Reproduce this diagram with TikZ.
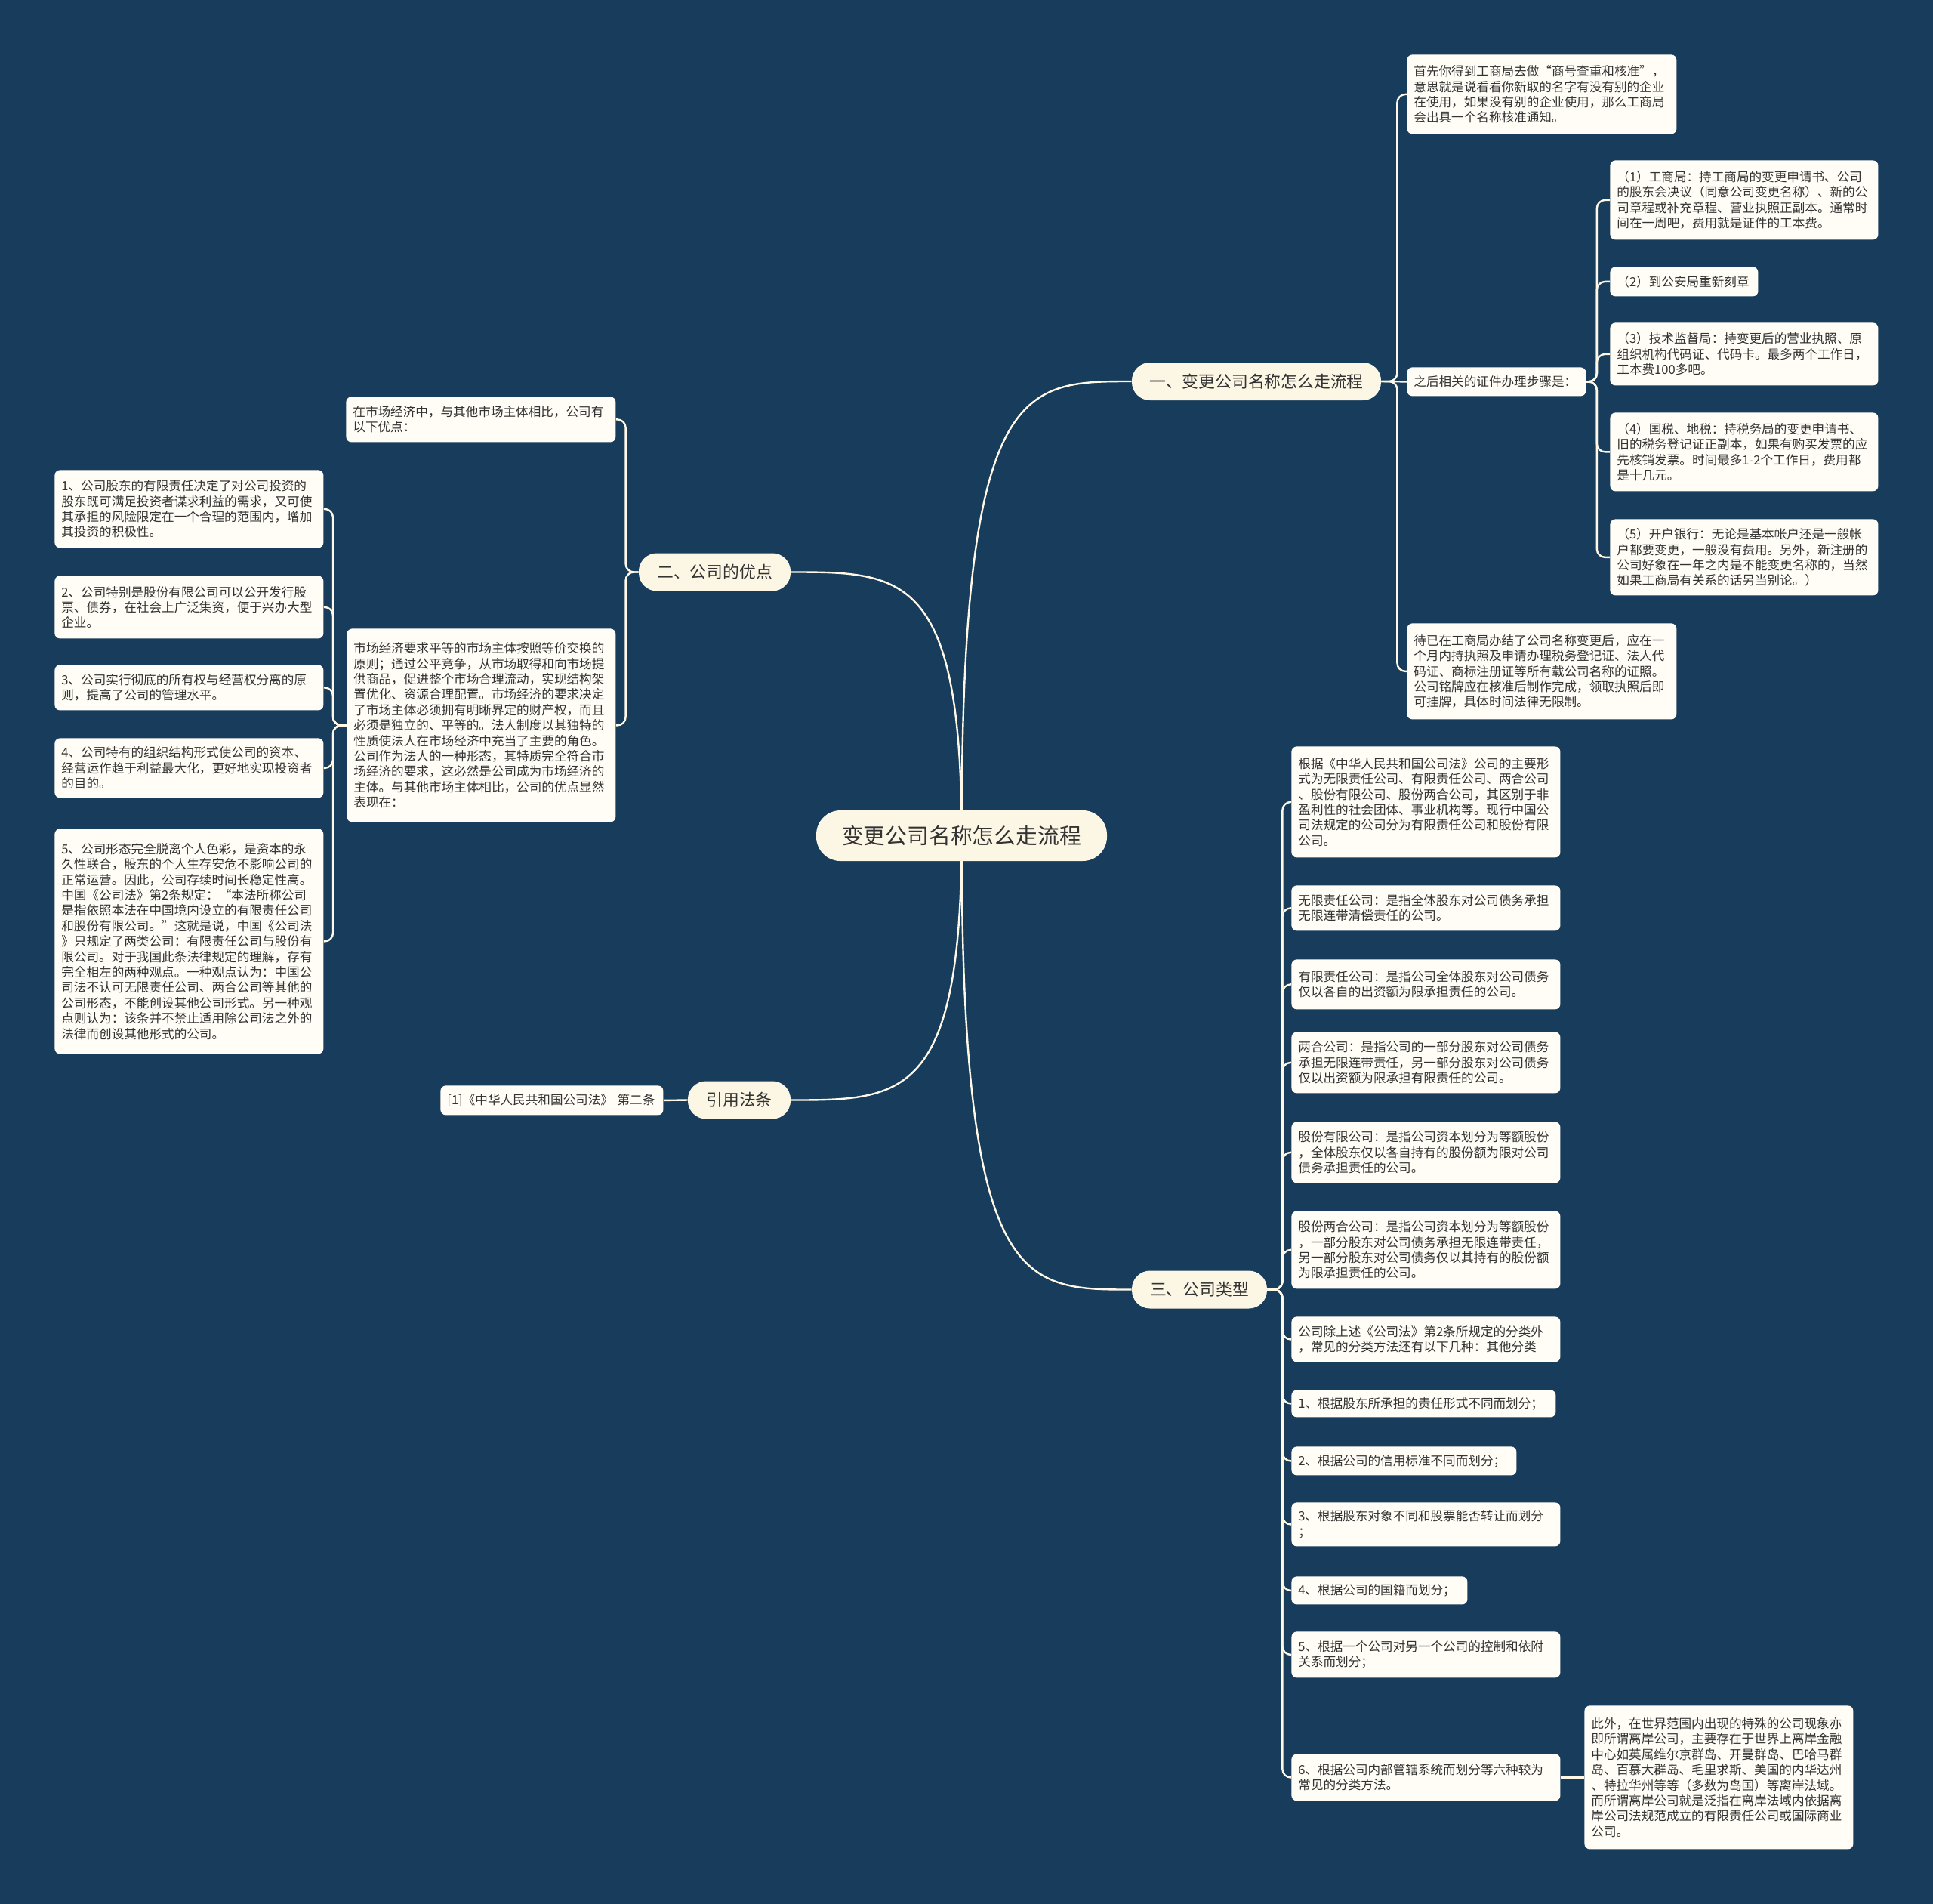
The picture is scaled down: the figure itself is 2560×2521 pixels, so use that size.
\documentclass[tikz,border=0pt]{standalone}
\usepackage{fontspec}
\setmainfont{Noto Sans CJK SC}
\usetikzlibrary{calc,backgrounds}
\definecolor{bgc}{HTML}{173C5C}
\definecolor{boxfill}{HTML}{FFFDF6}
\definecolor{mainfill}{HTML}{FCF6E4}
\definecolor{txt}{HTML}{333333}
\definecolor{linec}{HTML}{FFF8E6}
\tikzset{
  tbx/.style={fill=boxfill, rounded corners=3.5pt, inner xsep=4.5pt, inner ysep=0pt,
    align=left, text=txt, font=\fontsize{8.3}{10.2}\selectfont},
  topic/.style={fill=mainfill, rounded corners=12pt, inner sep=0pt, minimum height=25pt,
    text=txt, font=\fontsize{10.9}{13}\selectfont},
  rootnode/.style={fill=mainfill, rounded corners=16pt, inner sep=0pt, minimum height=33.5pt,
    minimum width=192.5pt, text=txt, font=\fontsize{14.4}{17}\selectfont},
  link/.style={draw=linec, line width=1.2pt},
  brk/.style={link, rounded corners=5.5pt},
}
% name, x-left, y-top, x-right, y-bottom, text
\newcommand\tbox[6]{%
  \pgfmathsetmacro\tbw{(#4-#2)/2-9}%
  \pgfmathsetmacro\tbh{(#5-#3)/2}%
  \node[tbx, text width=\tbw pt, minimum height=\tbh pt, anchor=north west] (#1) at (#2,#3) {#6};}
\newcommand\rootlink[3]{%
  \coordinate (#3) at (#1.center |- #2);
  \draw[link] (#1.center) .. controls (#3) and ($(#3)!0.35!(#2)$) .. (#2);}
\begin{document}
\begin{tikzpicture}[x=0.5pt,y=-0.5pt]
\useasboundingbox (0,0) rectangle (2560,2521);

% main nodes
\node[rootnode] (root) at (1273.5,1106.5) {变更公司名称怎么走流程};
\node[topic, minimum width=165pt] (b1) at (1664,505) {一、变更公司名称怎么走流程};
\node[topic, minimum width=100.5pt] (b2) at (946.5,757.5) {二、公司的优点};
\node[topic, minimum width=68pt] (b3) at (979,1456.5) {引用法条};
\node[topic, minimum width=89.5pt] (b4) at (1588.5,1707.5) {三、公司类型};

% branch one
\tbox{A}{1863}{72}{2220}{177}{首先你得到工商局去做“商号查重和核准”，\\意思就是说看看你新取的名字有没有别的企业\\在使用，如果没有别的企业使用，那么工商局\\会出具一个名称核准通知。}
\tbox{B}{1863}{486}{2100}{524}{之后相关的证件办理步骤是：}
\tbox{C}{1863}{825}{2220}{952}{待已在工商局办结了公司名称变更后，应在一\\个月内持执照及申请办理税务登记证、法人代\\码证、商标注册证等所有载公司名称的证照。\\公司铭牌应在核准后制作完成，领取执照后即\\可挂牌，具体时间法律无限制。}
\tbox{P1}{2132}{212}{2487}{317}{（1）工商局：持工商局的变更申请书、公司\\的股东会决议（同意公司变更名称）、新的公\\司章程或补充章程、营业执照正副本。通常时\\间在一周吧，费用就是证件的工本费。}
\tbox{P2}{2132}{353}{2328}{392}{（2）到公安局重新刻章}
\tbox{P3}{2132}{427}{2487}{510}{（3）技术监督局：持变更后的营业执照、原\\组织机构代码证、代码卡。最多两个工作日，\\工本费100多吧。}
\tbox{P4}{2132}{546}{2487}{650}{（4）国税、地税：持税务局的变更申请书、\\旧的税务登记证正副本，如果有购买发票的应\\先核销发票。时间最多1-2个工作日，费用都\\是十几元。}
\tbox{P5}{2132}{687}{2487}{788}{（5）开户银行：无论是基本帐户还是一般帐\\户都要变更，一般没有费用。另外，新注册的\\公司好象在一年之内是不能变更名称的，当然\\如果工商局有关系的话另当别论。）}

% branch two
\tbox{L0}{458}{525}{815}{585}{在市场经济中，与其他市场主体相比，公司有\\以下优点：}
\tbox{L1}{459}{832}{815}{1088}{市场经济要求平等的市场主体按照等价交换的\\原则；通过公平竞争，从市场取得和向市场提\\供商品，促进整个市场合理流动，实现结构架\\置优化、资源合理配置。市场经济的要求决定\\了市场主体必须拥有明晰界定的财产权，而且\\必须是独立的、平等的。法人制度以其独特的\\性质使法人在市场经济中充当了主要的角色。\\公司作为法人的一种形态，其特质完全符合市\\场经济的要求，这必然是公司成为市场经济的\\主体。与其他市场主体相比，公司的优点显然\\表现在：}
\tbox{Q1}{72}{622}{428}{725}{1、公司股东的有限责任决定了对公司投资的\\股东既可满足投资者谋求利益的需求，又可使\\其承担的风险限定在一个合理的范围内，增加\\其投资的积极性。}
\tbox{Q2}{72}{762}{428}{845}{2、公司特别是股份有限公司可以公开发行股\\票、债券，在社会上广泛集资，便于兴办大型\\企业。}
\tbox{Q3}{72}{880}{428}{940}{3、公司实行彻底的所有权与经营权分离的原\\则，提高了公司的管理水平。}
\tbox{Q4}{72}{977}{428}{1056}{4、公司特有的组织结构形式使公司的资本、\\经营运作趋于利益最大化，更好地实现投资者\\的目的。}
\tbox{Q5}{72}{1097}{428}{1395}{5、公司形态完全脱离个人色彩，是资本的永\\久性联合，股东的个人生存安危不影响公司的\\正常运营。因此，公司存续时间长稳定性高。\\中国《公司法》第2条规定：“本法所称公司\\是指依照本法在中国境内设立的有限责任公司\\和股份有限公司。”这就是说，中国《公司法\\》只规定了两类公司：有限责任公司与股份有\\限公司。对于我国此条法律规定的理解，存有\\完全相左的两种观点。一种观点认为：中国公\\司法不认可无限责任公司、两合公司等其他的\\公司形态，不能创设其他公司形式。另一种观\\点则认为：该条并不禁止适用除公司法之外的\\法律而创设其他形式的公司。}

% branch cite
\tbox{R}{583}{1437}{878}{1476}{[1]《中华人民共和国公司法》 第二条}

% branch three
\tbox{T1}{1710}{988}{2066}{1135}{根据《中华人民共和国公司法》公司的主要形\\式为无限责任公司、有限责任公司、两合公司\\、股份有限公司、股份两合公司，其区别于非\\盈利性的社会团体、事业机构等。现行中国公\\司法规定的公司分为有限责任公司和股份有限\\公司。}
\tbox{T2}{1710}{1172}{2066}{1232}{无限责任公司：是指全体股东对公司债务承担\\无限连带清偿责任的公司。}
\tbox{T3}{1710}{1270}{2066}{1336}{有限责任公司：是指公司全体股东对公司债务\\仅以各自的出资额为限承担责任的公司。}
\tbox{T4}{1710}{1366}{2066}{1447}{两合公司：是指公司的一部分股东对公司债务\\承担无限连带责任，另一部分股东对公司债务\\仅以出资额为限承担有限责任的公司。}
\tbox{T5}{1710}{1485}{2066}{1566}{股份有限公司：是指公司资本划分为等额股份\\，全体股东仅以各自持有的股份额为限对公司\\债务承担责任的公司。}
\tbox{T6}{1710}{1603}{2066}{1706}{股份两合公司：是指公司资本划分为等额股份\\，一部分股东对公司债务承担无限连带责任，\\另一部分股东对公司债务仅以其持有的股份额\\为限承担责任的公司。}
\tbox{T7}{1710}{1743}{2066}{1803}{公司除上述《公司法》第2条所规定的分类外\\，常见的分类方法还有以下几种：其他分类}
\tbox{T8}{1710}{1840}{2060}{1876}{1、根据股东所承担的责任形式不同而划分；}
\tbox{T9}{1710}{1915}{2008}{1953}{2、根据公司的信用标准不同而划分；}
\tbox{T10}{1710}{1989}{2066}{2047}{3、根据股东对象不同和股票能否转让而划分\\；}
\tbox{T11}{1710}{2087}{1943}{2124}{4、根据公司的国籍而划分；}
\tbox{T12}{1710}{2160}{2066}{2221}{5、根据一个公司对另一个公司的控制和依附\\关系而划分；}
\tbox{T13}{1710}{2322}{2066}{2384}{6、根据公司内部管辖系统而划分等六种较为\\常见的分类方法。}
\tbox{T14}{2098}{2258}{2454}{2448}{此外，在世界范围内出现的特殊的公司现象亦\\即所谓离岸公司，主要存在于世界上离岸金融\\中心如英属维尔京群岛、开曼群岛、巴哈马群\\岛、百慕大群岛、毛里求斯、美国的内华达州\\、特拉华州等等（多数为岛国）等离岸法域。\\而所谓离岸公司就是泛指在离岸法域内依据离\\岸公司法规范成立的有限责任公司或国际商业\\公司。}

\begin{scope}[on background layer]
\fill[bgc] (0,0) rectangle (2560,2521);
% root links
\rootlink{root}{b1.west}{k1}
\rootlink{root}{b2.east}{k2}
\rootlink{root}{b3.east}{k3}
\rootlink{root}{b4.west}{k4}
% branch one
\draw[brk] (b1.east) -- ++(21,0) |- (A.west);
\draw[link] (b1.east) -- (B.west);
\draw[brk] (b1.east) -- ++(21,0) |- (C.west);
\foreach \c in {P1,P2,P3,P4,P5}{\draw[brk] (B.east) -- ++(14,0) |- (\c.west);}
% branch two
\foreach \c in {L0,L1}{\draw[brk] (b2.west) -- ++(-17,0) |- (\c.east);}
\foreach \c in {Q1,Q2,Q3,Q4,Q5}{\draw[brk] (L1.west) -- ++(-18,0) |- (\c.east);}
% cite
\draw[link] (b3.west) -- (R.east);
% branch three
\foreach \c in {T1,T2,T3,T4,T5,T6,T7,T8,T9,T10,T11,T12,T13}{\draw[brk] (b4.east) -- ++(20,0) |- (\c.west);}
\draw[link] (T13.east) -- (T14.west);
\end{scope}
\end{tikzpicture}
\end{document}
